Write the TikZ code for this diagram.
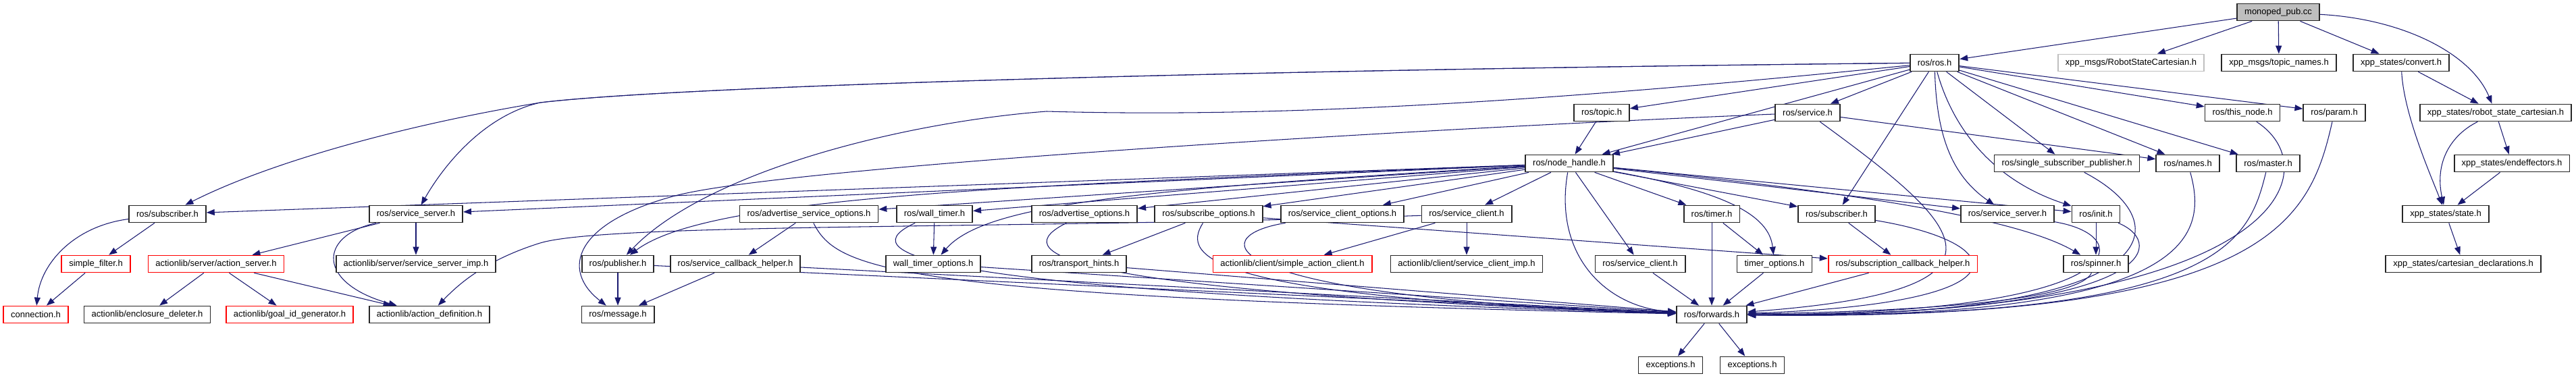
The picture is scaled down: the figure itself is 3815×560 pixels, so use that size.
\documentclass[tikz,border=0pt]{standalone}
\usepackage{fontspec}
\newfontfamily\graphfont{Liberation Sans}
\usetikzlibrary{arrows.meta, positioning}
\definecolor{edgeblue}{RGB}{25,25,112}
\definecolor{extgray}{RGB}{191,191,191}
\pgfdeclarelayer{background}
\pgfsetlayers{background,main}

\begin{document}
\begin{tikzpicture}[
    x=0.02cm, y=-0.02cm,
    file/.style={rectangle, draw=black!85, line width=1pt, fill=white, inner xsep=0.22cm, inner ysep=0pt, minimum height=0.5cm, font=\graphfont\fontsize{7.4}{8.8}\selectfont},
    redfile/.style={file, draw=red},
    extfile/.style={file, draw=extgray},
    mainfile/.style={file, fill=extgray},
    dep/.style={-{Triangle[length=0.24cm, width=0.18cm]}, draw=edgeblue, line width=0.6pt}
]
\useasboundingbox (0,0) rectangle (3815,560);

% RANK 0-1
\node[mainfile] (main) at (3374,18) {monoped\_pub.cc};
\node[file] (ros_h) at (2865,93) {ros/ros.h};
\node[extfile] (robot_msg) at (3156,93) {xpp\_msgs/RobotStateCartesian.h};
\node[file] (topic_names) at (3375,93) {xpp\_msgs/topic\_names.h};
\node[file] (convert) at (3556,93) {xpp\_states/convert.h};

% RANK 2-3
\node[file] (topic) at (2372,167) {ros/topic.h};
\node[file] (service) at (2677,167) {ros/service.h};
\node[file] (this_node) at (3321,167) {ros/this\_node.h};
\node[file] (param) at (3457,167) {ros/param.h};
\node[file] (rsc) at (3696,167) {xpp\_states/robot\_state\_cartesian.h};
\node[file] (node_handle) at (2324,242) {ros/node\_handle.h};
\node[file] (ssp) at (3061,242) {ros/single\_subscriber\_publisher.h};
\node[file] (names) at (3240,242) {ros/names.h};
\node[file] (master) at (3359,242) {ros/master.h};
\node[file] (endeff) at (3720,242) {xpp\_states/endeffectors.h};

% RANK 4
\node[file] (sub_a) at (248,317) {ros/subscriber.h};
\node[file] (srvsrv_a) at (616,317) {ros/service\_server.h};
\node[file] (adv_srv_opts) at (1198,317) {ros/advertise\_service\_options.h};
\node[file] (wall_timer) at (1384,317) {ros/wall\_timer.h};
\node[file] (adv_opts) at (1606,317) {ros/advertise\_options.h};
\node[file] (sub_opts) at (1790,317) {ros/subscribe\_options.h};
\node[file] (srv_cl_opts) at (1988,317) {ros/service\_client\_options.h};
\node[file] (srv_cl_a) at (2172,317) {ros/service\_client.h};
\node[file] (timer) at (2535,317) {ros/timer.h};
\node[file] (sub_b) at (2720,317) {ros/subscriber.h};
\node[file] (srvsrv_b) at (2973,317) {ros/service\_server.h};
\node[file] (init) at (3104,317) {ros/init.h};
\node[file] (state) at (3622,317) {xpp\_states/state.h};

% RANK 5
\node[redfile] (simple_filter) at (142,391) {simple\_filter.h};
\node[redfile] (action_server) at (320,391) {actionlib/server/action\_server.h};
\node[file] (srv_imp) at (616,391) {actionlib/server/service\_server\_imp.h};
\node[file] (publisher) at (915,391) {ros/publisher.h};
\node[file] (srv_cb) at (1089,391) {ros/service\_callback\_helper.h};
\node[file] (wt_opts) at (1382,391) {wall\_timer\_options.h};
\node[file] (transport) at (1598,391) {ros/transport\_hints.h};
\node[redfile] (simple_ac) at (1914,391) {actionlib/client/simple\_action\_client.h};
\node[file] (cl_imp) at (2172,391) {actionlib/client/service\_client\_imp.h};
\node[file] (srv_cl_b) at (2429,391) {ros/service\_client.h};
\node[file] (timer_opts) at (2628,391) {timer\_options.h};
\node[redfile] (sub_cb) at (2818,391) {ros/subscription\_callback\_helper.h};
\node[file] (spinner) at (3104,391) {ros/spinner.h};
\node[file] (cart_decl) at (3648,391) {xpp\_states/cartesian\_declarations.h};

% RANK 6-7
\node[redfile] (connection) at (53,466) {connection.h};
\node[file] (encl) at (218,466) {actionlib/enclosure\_deleter.h};
\node[redfile] (goal_id) at (429,466) {actionlib/goal\_id\_generator.h};
\node[file] (action_def) at (636,466) {actionlib/action\_definition.h};
\node[file] (message) at (915,466) {ros/message.h};
\node[file] (forwards) at (2535,466) {ros/forwards.h};
\node[file] (exc_a) at (2474,541) {exceptions.h};
\node[file] (exc_b) at (2595,541) {exceptions.h};

\begin{pgfonlayer}{background}
% MONOPED_PUB.CC
\draw[dep] (main) -- (ros_h);
\draw[dep] (main) -- (robot_msg);
\draw[dep] (main) -- (topic_names);
\draw[dep] (main) -- (convert);
\draw[dep] (main) .. controls (3560,28) and (3660,80) .. (rsc);
\draw[dep] (convert) -- (rsc);
\draw[dep] (convert) .. controls (3560,170) and (3600,260) .. (state);
\draw[dep] (rsc) .. controls (3630,200) and (3605,240) .. (state);
\draw[dep] (rsc) -- (endeff);
\draw[dep] (endeff) -- (state);
\draw[dep] (state) -- (cart_decl);

% ROS/ROS.H
\draw[dep] (ros_h) .. controls (1800,104) and (1000,128) .. (800,152) .. controls (600,185) and (400,240) .. (sub_a);
\draw[dep] (ros_h) .. controls (1800,104) and (1000,128) .. (800,152) .. controls (720,170) and (660,240) .. (srvsrv_a);
\draw[dep] (ros_h) -- (topic);
\draw[dep] (ros_h) -- (node_handle);
\draw[dep] (ros_h) -- (service);
\draw[dep] (ros_h) .. controls (2300,150) and (1900,175) .. (1550,165) .. controls (1350,180) and (1050,250) .. (publisher);
\draw[dep] (ros_h) -- (sub_b);
\draw[dep] (ros_h) .. controls (2868,200) and (2890,260) .. (srvsrv_b);
\draw[dep] (ros_h) .. controls (2895,200) and (2960,270) .. (init);
\draw[dep] (ros_h) -- (ssp);
\draw[dep] (ros_h) -- (names);
\draw[dep] (ros_h) -- (master);
\draw[dep] (ros_h) -- (this_node);
\draw[dep] (ros_h) -- (param);
\draw[dep] (topic) -- (node_handle);
\draw[dep] (service) -- (node_handle);
\draw[dep] (service) -- (names);
\draw[dep] (service) .. controls (2900,330) and (3020,430) .. (forwards);
\draw[dep] (service) .. controls (2000,195) and (1150,250) .. (1000,290) .. controls (850,330) and (830,400) .. (message);

% ROS/NODE_HANDLE.H
\draw[dep] (node_handle) -- (sub_a);
\draw[dep] (node_handle) -- (srvsrv_a);
\draw[dep] (node_handle) -- (adv_srv_opts);
\draw[dep] (node_handle) .. controls (1500,275) and (1050,290) .. (publisher);
\draw[dep] (node_handle) -- (wall_timer);
\draw[dep] (node_handle) .. controls (1700,280) and (1460,300) .. (wt_opts);
\draw[dep] (node_handle) -- (adv_opts);
\draw[dep] (node_handle) -- (sub_opts);
\draw[dep] (node_handle) -- (srv_cl_opts);
\draw[dep] (node_handle) -- (srv_cl_a);
\draw[dep] (node_handle) -- (timer);
\draw[dep] (node_handle) -- (srv_cl_b);
\draw[dep] (node_handle) .. controls (2300,380) and (2380,455) .. (forwards);
\draw[dep] (node_handle) .. controls (2560,285) and (2620,320) .. (timer_opts);
\draw[dep] (node_handle) -- (sub_b);
\draw[dep] (node_handle) -- (srvsrv_b);
\draw[dep] (node_handle) -- (init);
\draw[dep] (node_handle) .. controls (2800,290) and (3000,330) .. (spinner);

% LOWER RANKS
\draw[dep] (sub_a) -- (simple_filter);
\draw[dep] (sub_a) .. controls (110,335) and (60,390) .. (connection);
\draw[dep] (simple_filter) -- (connection);
\draw[dep] (srvsrv_a) -- (action_server);
\draw[dep] (srvsrv_a) -- (srv_imp);
\draw[dep] (srvsrv_a) .. controls (470,350) and (470,420) .. (action_def);
\draw[dep] (action_server) -- (encl);
\draw[dep] (action_server) -- (goal_id);
\draw[dep] (action_server) -- (action_def);
\draw[dep] (adv_srv_opts) -- (srv_cb);
\draw[dep] (adv_srv_opts) .. controls (1240,400) and (1320,440) .. (forwards);
\draw[dep] (publisher) -- (message);
\draw[dep] (publisher) -- (forwards);
\draw[dep] (srv_cb) -- (message);
\draw[dep] (srv_cb) -- (forwards);
\draw[dep] (wall_timer) -- (wt_opts);
\draw[dep] (wall_timer) .. controls (1270,370) and (1300,430) .. (forwards);
\draw[dep] (wt_opts) -- (forwards);
\draw[dep] (adv_opts) .. controls (1500,370) and (1520,430) .. (forwards);
\draw[dep] (sub_opts) -- (transport);
\draw[dep] (sub_opts) .. controls (1750,380) and (1780,440) .. (forwards);
\draw[dep] (sub_opts) -- (sub_cb);
\draw[dep] (transport) -- (forwards);
\draw[dep] (srv_cl_opts) .. controls (1780,350) and (1790,440) .. (forwards);
\draw[dep] (srv_cl_a) -- (simple_ac);
\draw[dep] (srv_cl_a) -- (cl_imp);
\draw[dep] (srv_cl_a) .. controls (1500,340) and (900,330) .. (800,360) .. controls (720,385) and (680,420) .. (action_def);
\draw[dep] (srv_cl_b) -- (forwards);
\draw[dep] (timer) -- (forwards);
\draw[dep] (timer) -- (timer_opts);
\draw[dep] (timer_opts) -- (forwards);
\draw[dep] (sub_b) -- (sub_cb);
\draw[dep] (sub_b) .. controls (2980,360) and (3010,450) .. (forwards);
\draw[dep] (sub_cb) -- (forwards);
\draw[dep] (srvsrv_b) .. controls (3170,350) and (3160,465) .. (forwards);
\draw[dep] (init) -- (spinner);
\draw[dep] (init) .. controls (3210,360) and (3200,468) .. (forwards);
\draw[dep] (spinner) .. controls (3080,440) and (2900,460) .. (forwards);
\draw[dep] (ssp) .. controls (3230,330) and (3220,472) .. (forwards);
\draw[dep] (names) .. controls (3270,350) and (3250,474) .. (forwards);
\draw[dep] (master) .. controls (3330,360) and (3290,474) .. (forwards);
\draw[dep] (this_node) .. controls (3450,250) and (3390,470) .. (forwards);
\draw[dep] (param) .. controls (3420,330) and (3360,476) .. (forwards);
\draw[dep] (forwards) -- (exc_a);
\draw[dep] (forwards) -- (exc_b);
\end{pgfonlayer}

\end{tikzpicture}
\end{document}
